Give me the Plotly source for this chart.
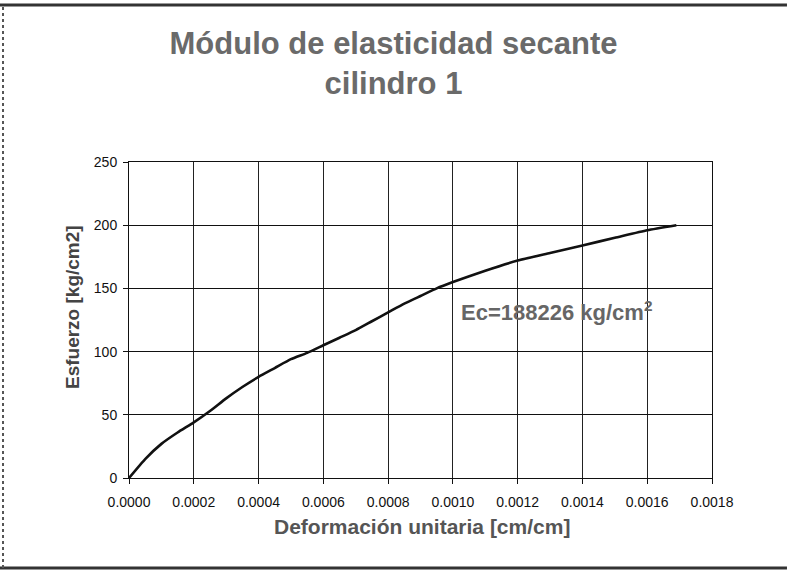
import plotly.graph_objects as go

# Data
strain = [0, 0.00005, 0.0001, 0.00015, 0.0002, 0.00025, 0.0003, 0.00035, 0.0004,
          0.00045, 0.0005, 0.00055, 0.0006, 0.00065, 0.0007, 0.00075, 0.0008,
          0.00085, 0.0009, 0.00095, 0.001, 0.0011, 0.0012, 0.0013, 0.0014,
          0.0015, 0.0016, 0.00169]
stress = [0, 15, 27, 36, 44, 53, 63, 72, 80, 87, 94, 99, 105, 111, 117, 124, 131,
          138, 144, 150, 155, 164, 172, 178, 184, 190, 196, 200]

x_ticks = [0, 0.0002, 0.0004, 0.0006, 0.0008, 0.0010, 0.0012, 0.0014, 0.0016, 0.0018]
y_ticks = [0, 50, 100, 150, 200, 250]

title_text = "Módulo de elasticidad secante<br>cilindro 1"
x_title = "Deformación unitaria [cm/cm]"
y_title = "Esfuerzo [kg/cm2]"
ec_label = "Ec=188226 kg/cm<sup>2</sup>"

FONT = "Liberation Sans, Arial, sans-serif"

fig = go.Figure()
fig.add_trace(go.Scatter(
    x=strain, y=stress, mode="lines",
    line=dict(color="#111111", width=2.6, shape="spline", smoothing=0.5),
    showlegend=False, hoverinfo="x+y",
))

fig.update_layout(
    width=787, height=571,
    margin=dict(l=129, r=75, t=162, b=93),
    paper_bgcolor="white", plot_bgcolor="white",
    font=dict(family=FONT, color="#111111", size=14),
    title=dict(
        text="<b>" + title_text + "</b>",
        font=dict(family=FONT, size=31, color="#6a6a6a"),
        x=0.5, xref="container", xanchor="center",
        y=1 - 54 / 571, yref="container", yanchor="top",
    ),
    xaxis=dict(
        range=[0, 0.0018], tickvals=x_ticks, tickformat=".4f",
        showgrid=True, gridcolor="#222222", gridwidth=1,
        showline=True, linecolor="#111111", linewidth=1, mirror=True,
        ticks="outside", ticklen=5, tickcolor="#111111",
        ticklabelstandoff=6, zeroline=False,
        tickfont=dict(size=14, color="#111111"),
    ),
    yaxis=dict(
        range=[0, 250], tickvals=y_ticks,
        showgrid=True, gridcolor="#111111", gridwidth=1,
        showline=True, linecolor="#111111", linewidth=1, mirror=True,
        ticks="outside", ticklen=5, tickcolor="#111111",
        ticklabelstandoff=3, zeroline=False,
        tickfont=dict(size=14, color="#111111"),
    ),
)

fig.add_annotation(
    text="<b>" + x_title + "</b>", xref="paper", yref="paper",
    x=0.5026, y=-0.155, xanchor="center", yanchor="middle", showarrow=False,
    font=dict(family=FONT, size=21, color="#555555"),
)
fig.add_annotation(
    text="<b>" + y_title + "</b>", xref="paper", yref="paper",
    x=-0.0978, y=0.541, xanchor="center", yanchor="middle", showarrow=False,
    textangle=-90, font=dict(family=FONT, size=19, color="#444444"),
)
fig.add_annotation(
    text="<b>" + ec_label + "</b>", xref="x", yref="y",
    x=0.00102, y=132, xanchor="left", yanchor="middle", showarrow=False,
    font=dict(family=FONT, size=22, color="#666666"),
)

# Scan frame edges
fig.add_shape(type="line", xref="paper", yref="paper",
              x0=-0.2213, x1=1.1286, y0=1.4968, y1=1.4968,
              line=dict(color="#333333", width=3))
fig.add_shape(type="line", xref="paper", yref="paper",
              x0=-0.2213, x1=1.1286, y0=-0.2848, y1=-0.2848,
              line=dict(color="#333333", width=3))
fig.add_shape(type="line", xref="paper", yref="paper",
              x0=-0.2161, x1=-0.2161, y0=-0.2848, y1=1.4968,
              line=dict(color="#555555", width=2, dash="dot"))

fig.write_html("out.html", config={"displayModeBar": False},
               post_script="document.body.style.margin='0';")
